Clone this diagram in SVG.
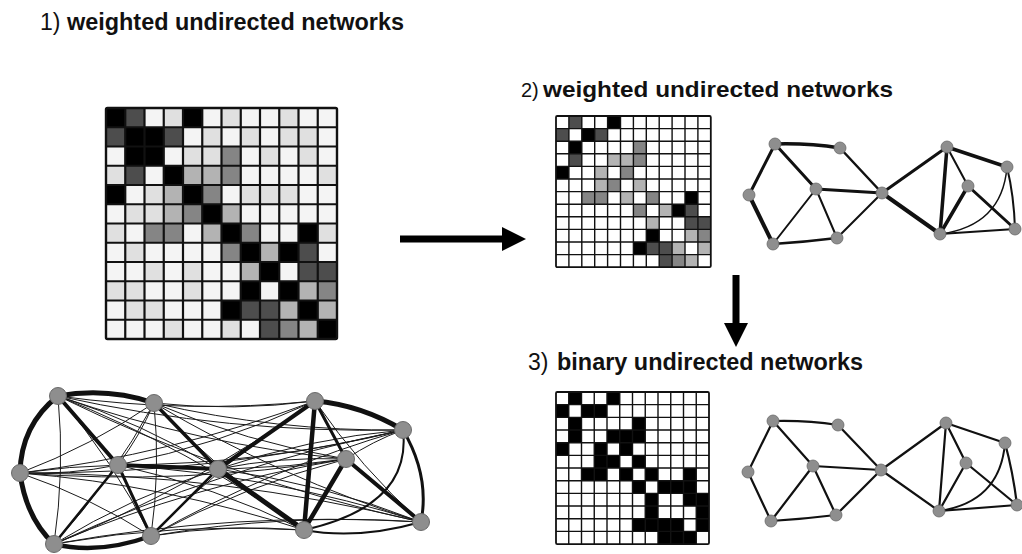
<svg xmlns="http://www.w3.org/2000/svg" width="1022" height="554" viewBox="0 0 1022 554">
<defs>
<style>
.t{font-family:"Liberation Sans",Arial,sans-serif;fill:#111}
.tb{font-weight:bold}
.k{fill:#000}.d{fill:#4d4d4d}.m{fill:#858585}.l{fill:#b3b3b3}.v{fill:#e0e0e0}
.grid{fill:none;stroke:#111;vector-effect:non-scaling-stroke}
.thin{fill:none;stroke:#1a1a1a;stroke-width:1}
.e{fill:none;stroke:#111;stroke-linecap:round}
.n1{fill:#8e8e8e;stroke:#6a6a6a;stroke-width:1}
.n2{fill:#8e8e8e;stroke:#6a6a6a;stroke-width:0.8}
.arr{stroke:#000;stroke-width:7;fill:none}
</style>
<marker id="head" markerUnits="userSpaceOnUse" markerWidth="24" markerHeight="24" viewBox="0 0 24 24" refX="3" refY="12" orient="auto">
<path d="M0,0L24,12L0,24Z" fill="#000"/>
</marker>
</defs>
<rect width="1022" height="554" fill="#fff"/>

<g id="titles">
<text class="t" x="40" y="30" font-size="23">1)</text>
<text class="t tb" x="67" y="30" font-size="23" textLength="337" lengthAdjust="spacingAndGlyphs">weighted undirected networks</text>
<text class="t" x="521" y="97" font-size="20">2)</text>
<text class="t tb" x="543" y="97" font-size="22.5" textLength="350" lengthAdjust="spacingAndGlyphs">weighted undirected networks</text>
<text class="t" x="528" y="370" font-size="23">3)</text>
<text class="t tb" x="557" y="370" font-size="23" textLength="306" lengthAdjust="spacingAndGlyphs">binary undirected networks</text>
</g>

<g id="matrix1" transform="translate(106,108) scale(19.25)">
<rect x="0" y="0" width="12" height="12" fill="#f4f4f4"/>
<rect class="k" x="0" y="0" width="1" height="1"/><rect class="d" x="1" y="0" width="1" height="1"/><rect class="v" x="3" y="0" width="1" height="1"/><rect class="k" x="4" y="0" width="1" height="1"/><rect class="v" x="6" y="0" width="1" height="1"/><rect class="v" x="9" y="0" width="1" height="1"/>
<rect class="d" x="0" y="1" width="1" height="1"/><rect class="k" x="1" y="1" width="1" height="1"/><rect class="k" x="2" y="1" width="1" height="1"/><rect class="d" x="3" y="1" width="1" height="1"/><rect class="v" x="5" y="1" width="1" height="1"/><rect class="v" x="7" y="1" width="1" height="1"/><rect class="v" x="9" y="1" width="1" height="1"/><rect class="v" x="10" y="1" width="1" height="1"/>
<rect class="k" x="1" y="2" width="1" height="1"/><rect class="k" x="2" y="2" width="1" height="1"/><rect class="v" x="4" y="2" width="1" height="1"/><rect class="v" x="5" y="2" width="1" height="1"/><rect class="m" x="6" y="2" width="1" height="1"/><rect class="v" x="8" y="2" width="1" height="1"/><rect class="v" x="10" y="2" width="1" height="1"/>
<rect class="v" x="0" y="3" width="1" height="1"/><rect class="d" x="1" y="3" width="1" height="1"/><rect class="k" x="3" y="3" width="1" height="1"/><rect class="l" x="4" y="3" width="1" height="1"/><rect class="l" x="5" y="3" width="1" height="1"/><rect class="m" x="6" y="3" width="1" height="1"/><rect class="v" x="11" y="3" width="1" height="1"/>
<rect class="k" x="0" y="4" width="1" height="1"/><rect class="v" x="2" y="4" width="1" height="1"/><rect class="l" x="3" y="4" width="1" height="1"/><rect class="k" x="4" y="4" width="1" height="1"/><rect class="m" x="5" y="4" width="1" height="1"/><rect class="v" x="7" y="4" width="1" height="1"/><rect class="v" x="8" y="4" width="1" height="1"/><rect class="v" x="9" y="4" width="1" height="1"/>
<rect class="v" x="1" y="5" width="1" height="1"/><rect class="v" x="2" y="5" width="1" height="1"/><rect class="l" x="3" y="5" width="1" height="1"/><rect class="m" x="4" y="5" width="1" height="1"/><rect class="k" x="5" y="5" width="1" height="1"/><rect class="l" x="6" y="5" width="1" height="1"/>
<rect class="v" x="0" y="6" width="1" height="1"/><rect class="m" x="2" y="6" width="1" height="1"/><rect class="m" x="3" y="6" width="1" height="1"/><rect class="l" x="5" y="6" width="1" height="1"/><rect class="k" x="6" y="6" width="1" height="1"/><rect class="m" x="7" y="6" width="1" height="1"/><rect class="k" x="10" y="6" width="1" height="1"/><rect class="v" x="11" y="6" width="1" height="1"/>
<rect class="v" x="1" y="7" width="1" height="1"/><rect class="m" x="6" y="7" width="1" height="1"/><rect class="k" x="7" y="7" width="1" height="1"/><rect class="l" x="8" y="7" width="1" height="1"/><rect class="k" x="9" y="7" width="1" height="1"/><rect class="d" x="10" y="7" width="1" height="1"/>
<rect class="v" x="2" y="8" width="1" height="1"/><rect class="v" x="4" y="8" width="1" height="1"/><rect class="l" x="7" y="8" width="1" height="1"/><rect class="k" x="8" y="8" width="1" height="1"/><rect class="d" x="10" y="8" width="1" height="1"/><rect class="d" x="11" y="8" width="1" height="1"/>
<rect class="v" x="0" y="9" width="1" height="1"/><rect class="v" x="1" y="9" width="1" height="1"/><rect class="v" x="4" y="9" width="1" height="1"/><rect class="k" x="7" y="9" width="1" height="1"/><rect class="k" x="9" y="9" width="1" height="1"/><rect class="l" x="10" y="9" width="1" height="1"/><rect class="m" x="11" y="9" width="1" height="1"/>
<rect class="v" x="1" y="10" width="1" height="1"/><rect class="v" x="2" y="10" width="1" height="1"/><rect class="k" x="6" y="10" width="1" height="1"/><rect class="d" x="7" y="10" width="1" height="1"/><rect class="d" x="8" y="10" width="1" height="1"/><rect class="l" x="9" y="10" width="1" height="1"/><rect class="k" x="10" y="10" width="1" height="1"/><rect class="l" x="11" y="10" width="1" height="1"/>
<rect class="v" x="3" y="11" width="1" height="1"/><rect class="v" x="6" y="11" width="1" height="1"/><rect class="d" x="8" y="11" width="1" height="1"/><rect class="m" x="9" y="11" width="1" height="1"/><rect class="l" x="10" y="11" width="1" height="1"/><rect class="k" x="11" y="11" width="1" height="1"/>
<path class="grid" stroke-width="2.2" d="M0,1H12M0,2H12M0,3H12M0,4H12M0,5H12M0,6H12M0,7H12M0,8H12M0,9H12M0,10H12M0,11H12M1,0V12M2,0V12M3,0V12M4,0V12M5,0V12M6,0V12M7,0V12M8,0V12M9,0V12M10,0V12M11,0V12"/>
<rect class="grid" stroke-width="2.4" x="0" y="0" width="12" height="12" rx="0.08"/>
</g>

<g id="matrix2" transform="translate(556,116) scale(12.9,12.6)">
<rect x="0" y="0" width="12" height="12" fill="#fff"/>
<rect class="d" x="1" y="0" width="1" height="1"/><rect class="k" x="4" y="0" width="1" height="1"/>
<rect class="d" x="0" y="1" width="1" height="1"/><rect class="k" x="2" y="1" width="1" height="1"/><rect class="d" x="3" y="1" width="1" height="1"/>
<rect class="k" x="1" y="2" width="1" height="1"/><rect class="m" x="6" y="2" width="1" height="1"/>
<rect class="d" x="1" y="3" width="1" height="1"/><rect class="l" x="4" y="3" width="1" height="1"/><rect class="l" x="5" y="3" width="1" height="1"/><rect class="m" x="6" y="3" width="1" height="1"/>
<rect class="k" x="0" y="4" width="1" height="1"/><rect class="l" x="3" y="4" width="1" height="1"/><rect class="m" x="5" y="4" width="1" height="1"/>
<rect class="l" x="3" y="5" width="1" height="1"/><rect class="m" x="4" y="5" width="1" height="1"/><rect class="l" x="6" y="5" width="1" height="1"/>
<rect class="m" x="2" y="6" width="1" height="1"/><rect class="m" x="3" y="6" width="1" height="1"/><rect class="l" x="5" y="6" width="1" height="1"/><rect class="m" x="7" y="6" width="1" height="1"/><rect class="k" x="10" y="6" width="1" height="1"/>
<rect class="m" x="6" y="7" width="1" height="1"/><rect class="l" x="8" y="7" width="1" height="1"/><rect class="k" x="9" y="7" width="1" height="1"/><rect class="d" x="10" y="7" width="1" height="1"/>
<rect class="l" x="7" y="8" width="1" height="1"/><rect class="d" x="10" y="8" width="1" height="1"/><rect class="d" x="11" y="8" width="1" height="1"/>
<rect class="k" x="7" y="9" width="1" height="1"/><rect class="l" x="10" y="9" width="1" height="1"/><rect class="m" x="11" y="9" width="1" height="1"/>
<rect class="k" x="6" y="10" width="1" height="1"/><rect class="d" x="7" y="10" width="1" height="1"/><rect class="d" x="8" y="10" width="1" height="1"/><rect class="l" x="9" y="10" width="1" height="1"/><rect class="l" x="11" y="10" width="1" height="1"/>
<rect class="d" x="8" y="11" width="1" height="1"/><rect class="m" x="9" y="11" width="1" height="1"/><rect class="l" x="10" y="11" width="1" height="1"/>
<path class="grid" stroke-width="1.4" d="M0,1H12M0,2H12M0,3H12M0,4H12M0,5H12M0,6H12M0,7H12M0,8H12M0,9H12M0,10H12M0,11H12M1,0V12M2,0V12M3,0V12M4,0V12M5,0V12M6,0V12M7,0V12M8,0V12M9,0V12M10,0V12M11,0V12"/>
<rect class="grid" stroke-width="1.8" x="0" y="0" width="12" height="12" rx="0.1"/>
</g>

<g id="matrix3" transform="translate(556,392) scale(12.75,12.67)">
<rect x="0" y="0" width="12" height="12" fill="#fff"/>
<rect class="k" x="1" y="0" width="1" height="1"/><rect class="k" x="4" y="0" width="1" height="1"/>
<rect class="k" x="0" y="1" width="1" height="1"/><rect class="k" x="2" y="1" width="1" height="1"/><rect class="k" x="3" y="1" width="1" height="1"/>
<rect class="k" x="1" y="2" width="1" height="1"/><rect class="k" x="6" y="2" width="1" height="1"/>
<rect class="k" x="1" y="3" width="1" height="1"/><rect class="k" x="4" y="3" width="1" height="1"/><rect class="k" x="5" y="3" width="1" height="1"/><rect class="k" x="6" y="3" width="1" height="1"/>
<rect class="k" x="0" y="4" width="1" height="1"/><rect class="k" x="3" y="4" width="1" height="1"/><rect class="k" x="5" y="4" width="1" height="1"/>
<rect class="k" x="3" y="5" width="1" height="1"/><rect class="k" x="4" y="5" width="1" height="1"/><rect class="k" x="6" y="5" width="1" height="1"/>
<rect class="k" x="2" y="6" width="1" height="1"/><rect class="k" x="3" y="6" width="1" height="1"/><rect class="k" x="5" y="6" width="1" height="1"/><rect class="k" x="7" y="6" width="1" height="1"/><rect class="k" x="10" y="6" width="1" height="1"/>
<rect class="k" x="6" y="7" width="1" height="1"/><rect class="k" x="8" y="7" width="1" height="1"/><rect class="k" x="9" y="7" width="1" height="1"/><rect class="k" x="10" y="7" width="1" height="1"/>
<rect class="k" x="7" y="8" width="1" height="1"/><rect class="k" x="10" y="8" width="1" height="1"/><rect class="k" x="11" y="8" width="1" height="1"/>
<rect class="k" x="7" y="9" width="1" height="1"/><rect class="k" x="11" y="9" width="1" height="1"/>
<rect class="k" x="6" y="10" width="1" height="1"/><rect class="k" x="7" y="10" width="1" height="1"/><rect class="k" x="8" y="10" width="1" height="1"/><rect class="k" x="9" y="10" width="1" height="1"/><rect class="k" x="11" y="10" width="1" height="1"/>
<rect class="k" x="8" y="11" width="1" height="1"/><rect class="k" x="9" y="11" width="1" height="1"/><rect class="k" x="10" y="11" width="1" height="1"/>
<path class="grid" stroke-width="1.4" d="M0,1H12M0,2H12M0,3H12M0,4H12M0,5H12M0,6H12M0,7H12M0,8H12M0,9H12M0,10H12M0,11H12M1,0V12M2,0V12M3,0V12M4,0V12M5,0V12M6,0V12M7,0V12M8,0V12M9,0V12M10,0V12M11,0V12"/>
<rect class="grid" stroke-width="1.8" x="0" y="0" width="12" height="12" rx="0.1"/>
</g>

<g id="connectors">
<g id="arrows">
<path class="arr" d="M400,239H505" marker-end="url(#head)"/>
<path class="arr" d="M736,275V326" marker-end="url(#head)"/>
</g>
<g id="net1-edges">
<path class="thin" d="M58,396Q142.4,422.9 218,469"/>
<path class="thin" d="M58,396Q64.9,470.3 54,544"/>
<path class="thin" d="M58,396Q112.9,460.4 151,536"/>
<path class="thin" d="M58,396Q186.2,413.9 315,401"/>
<path class="thin" d="M58,396Q228.5,433.7 403,430"/>
<path class="thin" d="M58,396Q198.2,444.8 346,459"/>
<path class="thin" d="M58,396Q189,448.3 304,530"/>
<path class="thin" d="M58,396Q232,480.8 421,522"/>
<path class="thin" d="M154,403Q91.2,446 20,473"/>
<path class="thin" d="M154,403Q139.7,436.2 118,465"/>
<path class="thin" d="M154,403Q112.5,479.5 54,544"/>
<path class="thin" d="M154,403Q160.5,469.7 151,536"/>
<path class="thin" d="M154,403Q234.6,411.7 315,401"/>
<path class="thin" d="M154,403Q276.9,431.5 403,430"/>
<path class="thin" d="M154,403Q246.7,442.5 346,459"/>
<path class="thin" d="M154,403Q221.4,475.5 304,530"/>
<path class="thin" d="M154,403Q280.4,478.5 421,522"/>
<path class="thin" d="M20,473Q69.5,474.9 118,465"/>
<path class="thin" d="M20,473Q118.8,459.1 218,469"/>
<path class="thin" d="M20,473Q89.3,496.7 151,536"/>
<path class="thin" d="M20,473Q171.8,454.7 315,401"/>
<path class="thin" d="M20,473Q214.1,474.5 403,430"/>
<path class="thin" d="M20,473Q183.9,485.6 346,459"/>
<path class="thin" d="M20,473Q165.4,484.5 304,530"/>
<path class="thin" d="M20,473Q223.5,473.5 421,522"/>
<path class="thin" d="M118,465Q220.4,444.8 315,401"/>
<path class="thin" d="M118,465Q262.6,464.6 403,430"/>
<path class="thin" d="M118,465Q232.4,475.7 346,459"/>
<path class="thin" d="M118,465Q214.9,486.4 304,530"/>
<path class="thin" d="M118,465Q272.9,475.3 421,522"/>
<path class="thin" d="M218,469Q131.5,496.7 54,544"/>
<path class="thin" d="M218,469Q308.2,438.4 403,430"/>
<path class="thin" d="M218,469Q281.4,456.3 346,459"/>
<path class="thin" d="M218,469Q322.7,483.3 421,522"/>
<path class="thin" d="M54,544Q193.1,488.2 315,401"/>
<path class="thin" d="M54,544Q221.7,466.1 403,430"/>
<path class="thin" d="M54,544Q194.9,484 346,459"/>
<path class="thin" d="M54,544Q178.2,522 304,530"/>
<path class="thin" d="M54,544Q236.2,511 421,522"/>
<path class="thin" d="M151,536Q224.9,458.7 315,401"/>
<path class="thin" d="M151,536Q270.7,467.9 403,430"/>
<path class="thin" d="M151,536Q243.9,485.8 346,459"/>
<path class="thin" d="M151,536Q227.2,523.8 304,530"/>
<path class="thin" d="M151,536Q285.2,512.8 421,522"/>
<path class="thin" d="M315,401Q360.8,467.9 421,522"/>
<path class="thin" d="M403,430Q372.8,441.1 346,459"/>
<path class="e" stroke-width="5" d="M58,396Q107,387 154,403"/>
<path class="e" stroke-width="5" d="M58,396Q21,425 20,473"/>
<path class="e" stroke-width="5" d="M20,473Q26,518 54,544"/>
<path class="e" stroke-width="4.5" d="M54,544Q98,555 151,536"/>
<path class="e" stroke-width="4" d="M58,396L118,465"/>
<path class="e" stroke-width="4" d="M118,465L218,469"/>
<path class="e" stroke-width="3" d="M118,465L151,536"/>
<path class="e" stroke-width="2.5" d="M118,465L54,544"/>
<path class="e" stroke-width="2.5" d="M151,536L218,469"/>
<path class="e" stroke-width="3.5" d="M154,403L218,469"/>
<path class="e" stroke-width="4" d="M218,469L315,401"/>
<path class="e" stroke-width="5" d="M218,469L304,530"/>
<path class="e" stroke-width="5" d="M315,401Q361,405 403,430"/>
<path class="e" stroke-width="4.5" d="M315,401L304,530"/>
<path class="e" stroke-width="3" d="M315,401L346,459"/>
<path class="e" stroke-width="4.5" d="M346,459L304,530"/>
<path class="e" stroke-width="4" d="M346,459L421,522"/>
<path class="e" stroke-width="3" d="M403,430Q430,476 421,522"/>
<path class="e" stroke-width="2" d="M403,430Q412,506 304,530"/>
<path class="e" stroke-width="2" d="M304,530Q358,540 421,522"/>
</g>
<g id="net2-edges">
<path class="e" stroke-width="3.5" d="M775,144Q808,143 840,148"/>
<path class="e" stroke-width="3" d="M775,144L749,195"/>
<path class="e" stroke-width="3" d="M775,144L816,189"/>
<path class="e" stroke-width="4" d="M749,195L773,244"/>
<path class="e" stroke-width="2.5" d="M773,244Q805,242 837,238"/>
<path class="e" stroke-width="3" d="M816,189L882,193"/>
<path class="e" stroke-width="2" d="M816,189L773,244"/>
<path class="e" stroke-width="2" d="M816,189L837,238"/>
<path class="e" stroke-width="2.5" d="M840,148L882,193"/>
<path class="e" stroke-width="2" d="M837,238L882,193"/>
<path class="e" stroke-width="3" d="M882,193L947,147"/>
<path class="e" stroke-width="4" d="M882,193L940,234"/>
<path class="e" stroke-width="3.5" d="M947,147L1007,167"/>
<path class="e" stroke-width="3.5" d="M947,147L940,234"/>
<path class="e" stroke-width="2" d="M947,147L968,186"/>
<path class="e" stroke-width="3.5" d="M968,186L940,234"/>
<path class="e" stroke-width="3" d="M968,186L1015,229"/>
<path class="e" stroke-width="1.5" d="M1007,167Q1002,226 940,234"/>
<path class="e" stroke-width="2" d="M1007,167Q1014,196 1015,229"/>
<path class="e" stroke-width="2" d="M940,234L1015,229"/>
</g>
<g id="net3-edges">
<path class="e" stroke-width="2.2" d="M773,421Q806,420 838,425"/>
<path class="e" stroke-width="2.2" d="M773,421L748,472"/>
<path class="e" stroke-width="2.2" d="M773,421L813,466"/>
<path class="e" stroke-width="2.2" d="M748,472L771,521"/>
<path class="e" stroke-width="2.2" d="M771,521Q804,519 836,515"/>
<path class="e" stroke-width="2.2" d="M813,466L881,470"/>
<path class="e" stroke-width="2.2" d="M813,466L771,521"/>
<path class="e" stroke-width="2.2" d="M813,466L836,515"/>
<path class="e" stroke-width="2.2" d="M838,425L881,470"/>
<path class="e" stroke-width="2.2" d="M836,515L881,470"/>
<path class="e" stroke-width="2.2" d="M881,470L946,423"/>
<path class="e" stroke-width="2.2" d="M881,470L939,511"/>
<path class="e" stroke-width="2.2" d="M946,423L1005,443"/>
<path class="e" stroke-width="2.2" d="M946,423L939,511"/>
<path class="e" stroke-width="2.2" d="M946,423L966,463"/>
<path class="e" stroke-width="2.2" d="M966,463L939,511"/>
<path class="e" stroke-width="2.2" d="M966,463L1017,505"/>
<path class="e" stroke-width="2" d="M1005,443Q1000,502 939,511"/>
<path class="e" stroke-width="2.2" d="M1005,443Q1013,472 1017,505"/>
<path class="e" stroke-width="2.2" d="M939,511L1017,505"/>
</g>
</g>

<g id="net1-nodes">
<g id="n1-A"><circle class="n1" cx="58" cy="396" r="8.5"/></g>
<g id="n1-B"><circle class="n1" cx="154" cy="403" r="8.5"/></g>
<g id="n1-C"><circle class="n1" cx="20" cy="473" r="8.5"/></g>
<g id="n1-D"><circle class="n1" cx="118" cy="465" r="8.5"/></g>
<g id="n1-E"><circle class="n1" cx="218" cy="469" r="8.5"/></g>
<g id="n1-F"><circle class="n1" cx="54" cy="544" r="8.5"/></g>
<g id="n1-G"><circle class="n1" cx="151" cy="536" r="8.5"/></g>
<g id="n1-H"><circle class="n1" cx="315" cy="401" r="8.5"/></g>
<g id="n1-I"><circle class="n1" cx="403" cy="430" r="8.5"/></g>
<g id="n1-J"><circle class="n1" cx="346" cy="459" r="8.5"/></g>
<g id="n1-K"><circle class="n1" cx="304" cy="530" r="8.5"/></g>
<g id="n1-L"><circle class="n1" cx="421" cy="522" r="8.5"/></g>
</g>
<g id="net2-nodes">
<g id="n2-A"><circle class="n2" cx="775" cy="144" r="6"/></g>
<g id="n2-B"><circle class="n2" cx="840" cy="148" r="6"/></g>
<g id="n2-C"><circle class="n2" cx="749" cy="195" r="6"/></g>
<g id="n2-D"><circle class="n2" cx="816" cy="189" r="6"/></g>
<g id="n2-E"><circle class="n2" cx="882" cy="193" r="6"/></g>
<g id="n2-F"><circle class="n2" cx="773" cy="244" r="6"/></g>
<g id="n2-G"><circle class="n2" cx="837" cy="238" r="6"/></g>
<g id="n2-H"><circle class="n2" cx="947" cy="147" r="6"/></g>
<g id="n2-I"><circle class="n2" cx="1007" cy="167" r="6"/></g>
<g id="n2-J"><circle class="n2" cx="968" cy="186" r="6"/></g>
<g id="n2-K"><circle class="n2" cx="940" cy="234" r="6"/></g>
<g id="n2-L"><circle class="n2" cx="1015" cy="229" r="6"/></g>
</g>
<g id="net3-nodes">
<g id="n3-A"><circle class="n2" cx="773" cy="421" r="6"/></g>
<g id="n3-B"><circle class="n2" cx="838" cy="425" r="6"/></g>
<g id="n3-C"><circle class="n2" cx="748" cy="472" r="6"/></g>
<g id="n3-D"><circle class="n2" cx="813" cy="466" r="6"/></g>
<g id="n3-E"><circle class="n2" cx="881" cy="470" r="6"/></g>
<g id="n3-F"><circle class="n2" cx="771" cy="521" r="6"/></g>
<g id="n3-G"><circle class="n2" cx="836" cy="515" r="6"/></g>
<g id="n3-H"><circle class="n2" cx="946" cy="423" r="6"/></g>
<g id="n3-I"><circle class="n2" cx="1005" cy="443" r="6"/></g>
<g id="n3-J"><circle class="n2" cx="966" cy="463" r="6"/></g>
<g id="n3-K"><circle class="n2" cx="939" cy="511" r="6"/></g>
<g id="n3-L"><circle class="n2" cx="1017" cy="505" r="6"/></g>
</g>
</svg>
